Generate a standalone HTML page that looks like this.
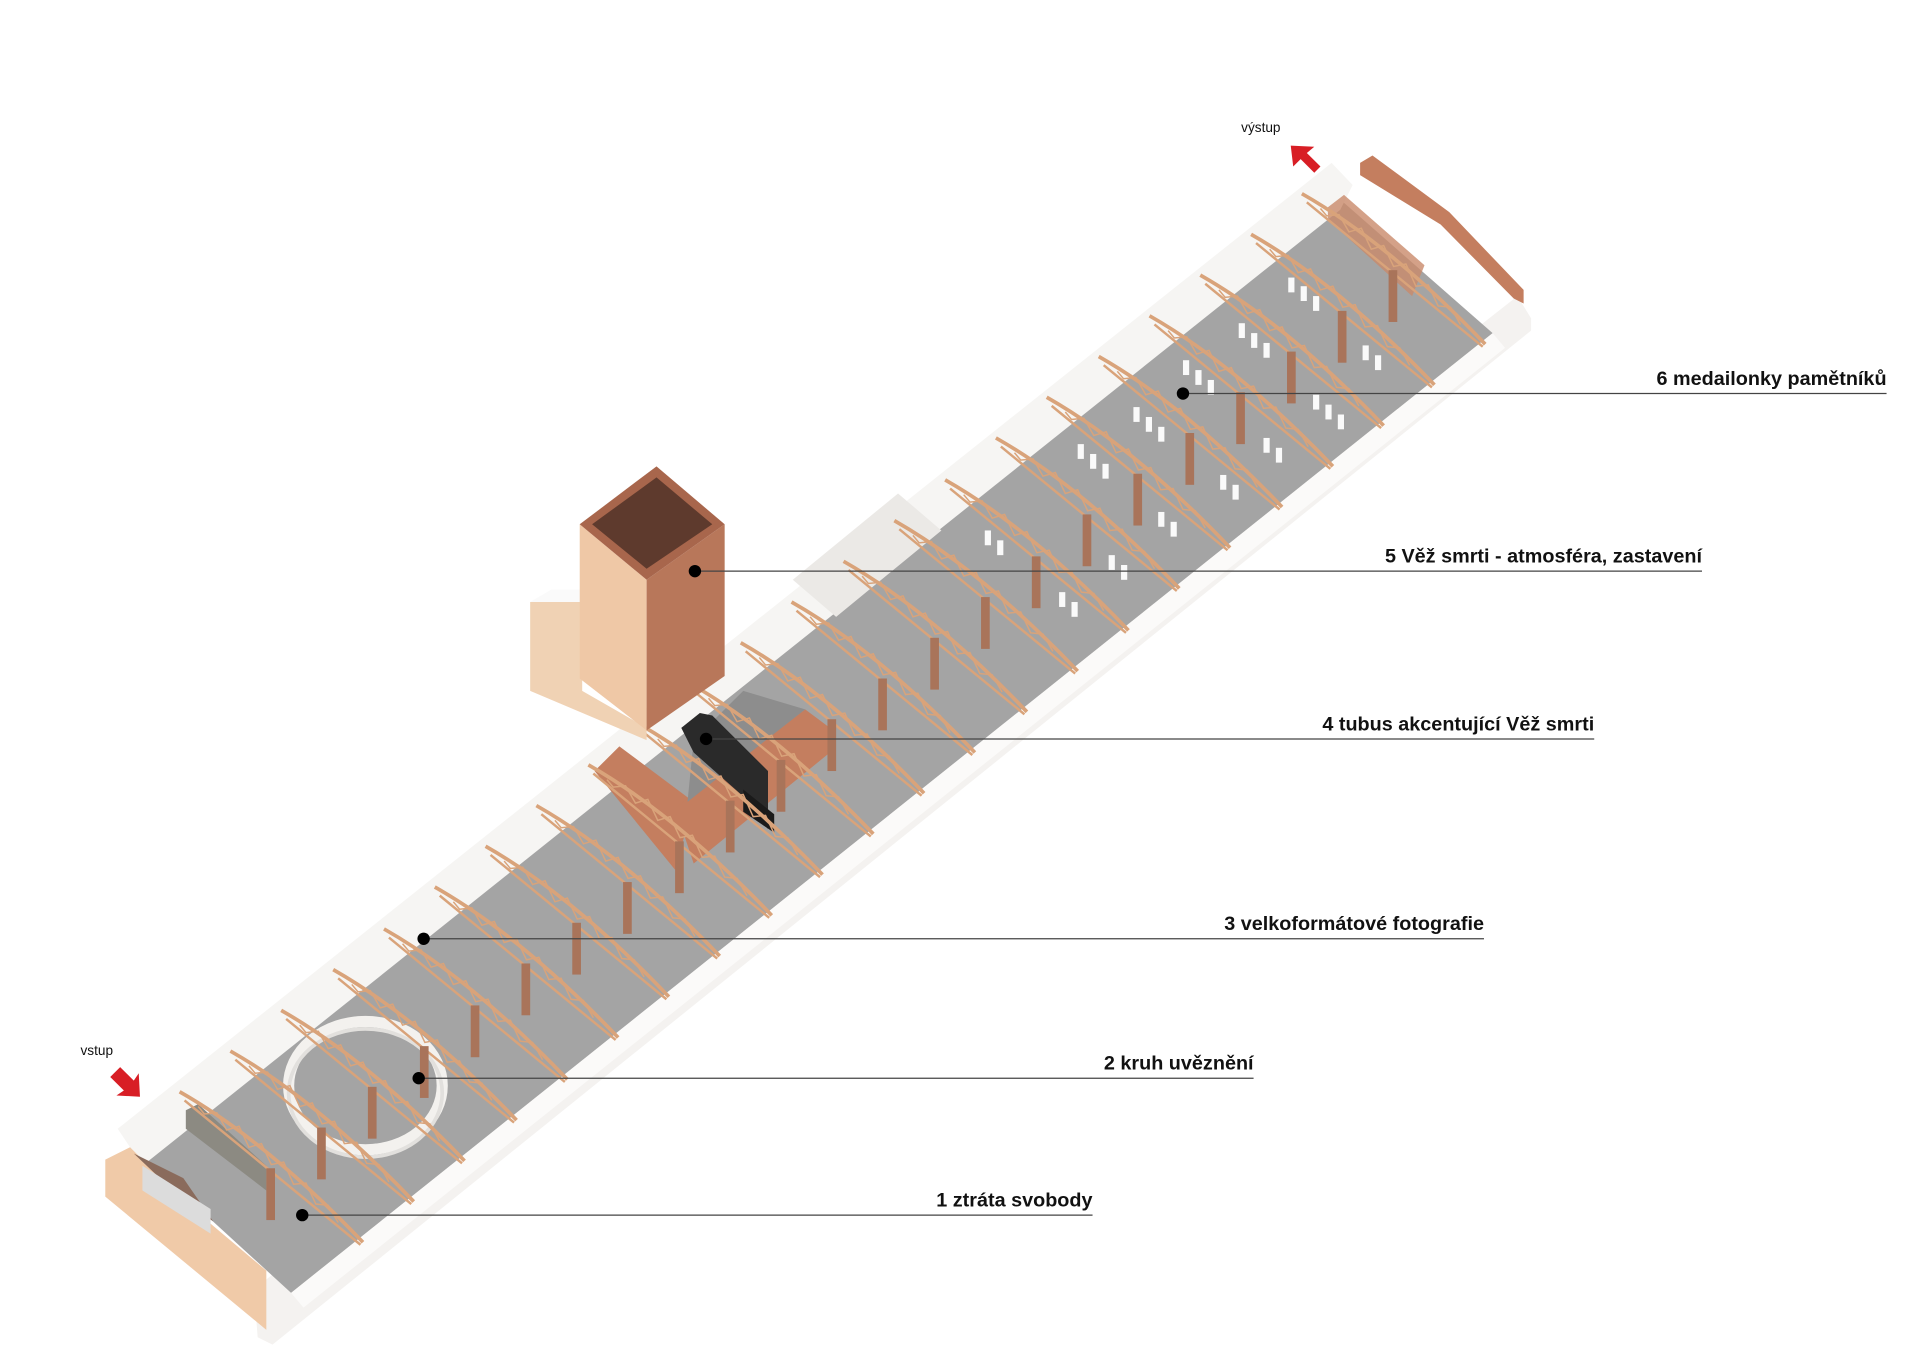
<!DOCTYPE html>
<html><head><meta charset="utf-8"><style>
html,body{margin:0;padding:0;background:#fff;}
svg{display:block}
text{font-family:"Liberation Sans",sans-serif;}
</style></head><body>
<svg width="1920" height="1357" viewBox="0 0 1550 1100" preserveAspectRatio="none" xmlns="http://www.w3.org/2000/svg">
<defs>
<g id="truss">
<path d="M0,0 Q70,40 148,122" fill="none" stroke="#d9a37a" stroke-width="3"/>
<path d="M4,7 L146,124" fill="none" stroke="#d9a37a" stroke-width="2"/>
<path d="M15,12 L20,18 L30,17 L38,31 L48,28 L56,45 L66,42 L74,59 L84,57 L92,75 L102,74 L110,91 L120,92 L128,106" fill="none" stroke="#d9a37a" stroke-width="1.2"/>
<rect x="70" y="62" width="7" height="42" fill="#a9745a"/>
</g>
</defs>
<!-- ground slab -->
<polygon points="205,1045 1225,240 1236,258 1236,268 220,1090 208,1084" fill="#f4f2f0"/>
<!-- floor -->
<polygon points="112,935 1080,160 1205,270 235,1048" fill="#a4a4a4"/>
<!-- left wall -->
<polygon points="95,915 1075,132 1092,150 1082,170 115,945" fill="#f6f5f3"/>
<!-- right ledge -->
<polygon points="235,1048 1205,270 1215,282 245,1060" fill="#fbfaf9"/>
<!-- near brick end -->
<polygon points="85,940 105,930 150,975 215,1030 215,1078 85,970" fill="#f0caa8"/>
<polygon points="108,935 148,955 172,990 150,975" fill="#8a6b5c"/>
<polygon points="115,945 170,980 170,1000 115,965" fill="#dcdcdc"/>
<!-- far brick end -->
<polygon points="1098,132 1108,126 1170,172 1230,235 1230,246 1222,242 1163,182 1098,142" fill="#c47e5f"/>
<polygon points="1072,168 1085,158 1150,215 1140,240 1072,178" fill="#c98a6a" opacity="0.8"/>
<!-- brick walls mid -->
<polygon points="480,625 500,605 560,650 545,705" fill="#c47e5f"/>
<polygon points="545,655 650,575 670,590 670,610 560,700" fill="#c47e5f"/>
<polygon points="560,600 600,560 650,575 555,650" fill="#8d8d8d"/>
<polygon points="640,470 725,400 760,430 675,500" fill="#ebe9e6"/>
<!-- black tubus -->
<polygon points="550,590 565,578 575,580 620,625 620,672 605,650 560,610" fill="#2a2a2a"/>
<polygon points="600,640 625,660 625,675 600,658" fill="#1a1a1a"/>
<!-- circle wall -->
<ellipse cx="295" cy="880" rx="62" ry="52" fill="none" stroke="#f3f1ee" stroke-width="9"/>
<ellipse cx="295" cy="886" rx="62" ry="52" fill="none" stroke="#e2e0dd" stroke-width="3"/>
<!-- grey wall left -->
<polygon points="150,900 160,895 215,945 215,965 150,915" fill="#8c8a82"/>
<!-- medallion panels -->
<g fill="#fafafa">
<rect x="1040" y="225" width="5" height="12"/><rect x="1050" y="232" width="5" height="12"/><rect x="1060" y="240" width="5" height="12"/>
<rect x="1000" y="262" width="5" height="12"/><rect x="1010" y="270" width="5" height="12"/><rect x="1020" y="278" width="5" height="12"/>
<rect x="1100" y="280" width="5" height="12"/><rect x="1110" y="288" width="5" height="12"/>
<rect x="955" y="292" width="5" height="12"/><rect x="965" y="300" width="5" height="12"/><rect x="975" y="308" width="5" height="12"/>
<rect x="1060" y="320" width="5" height="12"/><rect x="1070" y="328" width="5" height="12"/><rect x="1080" y="336" width="5" height="12"/>
<rect x="915" y="330" width="5" height="12"/><rect x="925" y="338" width="5" height="12"/><rect x="935" y="346" width="5" height="12"/>
<rect x="1020" y="355" width="5" height="12"/><rect x="1030" y="363" width="5" height="12"/>
<rect x="870" y="360" width="5" height="12"/><rect x="880" y="368" width="5" height="12"/><rect x="890" y="376" width="5" height="12"/>
<rect x="985" y="385" width="5" height="12"/><rect x="995" y="393" width="5" height="12"/>
<rect x="935" y="415" width="5" height="12"/><rect x="945" y="423" width="5" height="12"/>
<rect x="895" y="450" width="5" height="12"/><rect x="905" y="458" width="5" height="12"/>
<rect x="855" y="480" width="5" height="12"/><rect x="865" y="488" width="5" height="12"/>
<rect x="795" y="430" width="5" height="12"/><rect x="805" y="438" width="5" height="12"/>
</g>
<!-- trusses -->
<use href="#truss" transform="translate(145,885)"/>
<use href="#truss" transform="translate(186,852)"/>
<use href="#truss" transform="translate(227,819)"/>
<use href="#truss" transform="translate(269,786)"/>
<use href="#truss" transform="translate(310,753)"/>
<use href="#truss" transform="translate(351,719)"/>
<use href="#truss" transform="translate(392,686)"/>
<use href="#truss" transform="translate(433,653)"/>
<use href="#truss" transform="translate(475,620)"/>
<use href="#truss" transform="translate(516,587)"/>
<use href="#truss" transform="translate(557,554)"/>
<use href="#truss" transform="translate(598,521)"/>
<use href="#truss" transform="translate(639,488)"/>
<use href="#truss" transform="translate(681,455)"/>
<use href="#truss" transform="translate(722,422)"/>
<use href="#truss" transform="translate(763,389)"/>
<use href="#truss" transform="translate(804,355)"/>
<use href="#truss" transform="translate(845,322)"/>
<use href="#truss" transform="translate(887,289)"/>
<use href="#truss" transform="translate(928,256)"/>
<use href="#truss" transform="translate(969,223)"/>
<use href="#truss" transform="translate(1010,190)"/>
<use href="#truss" transform="translate(1051,157)"/>
<!-- tower -->
<polygon points="428,488 470,488 470,560 522,590 522,600 428,560" fill="#f0d2b4"/>
<polygon points="428,488 445,478 470,478 470,488" fill="#fafafa"/>
<polygon points="468,425 522,470 522,592 468,550" fill="#efc8a6"/>
<polygon points="522,470 585,425 585,548 522,592" fill="#b8775a"/>
<polygon points="468,425 530,378 585,425 522,470" fill="#a8664c"/>
<polygon points="478,425 530,387 575,425 522,461" fill="#5e3a2d"/>
<!-- leaders -->
<g stroke="#444" stroke-width="1">
<line x1="244" y1="985" x2="882" y2="985"/>
<line x1="338" y1="874" x2="1012" y2="874"/>
<line x1="342" y1="761" x2="1198" y2="761"/>
<line x1="570" y1="599" x2="1287" y2="599"/>
<line x1="561" y1="463" x2="1374" y2="463"/>
<line x1="955" y1="319" x2="1523" y2="319"/>
</g>
<g fill="#000">
<circle cx="244" cy="985" r="5"/><circle cx="338" cy="874" r="5"/><circle cx="342" cy="761" r="5"/>
<circle cx="570" cy="599" r="5"/><circle cx="561" cy="463" r="5"/><circle cx="955" cy="319" r="5"/>
</g>
<g font-size="16" font-weight="bold" text-anchor="end" fill="#111">
<text x="882" y="978">1 ztráta svobody</text>
<text x="1012" y="867">2 kruh uvěznění</text>
<text x="1198" y="754">3 velkoformátové fotografie</text>
<text x="1287" y="592">4 tubus akcentující Věž smrti</text>
<text x="1374" y="456">5 Věž smrti - atmosféra, zastavení</text>
<text x="1523" y="312">6 medailonky pamětníků</text>
</g>
<text x="65" y="855" font-size="11" fill="#111">vstup</text>
<text x="1002" y="107" font-size="11" fill="#111">výstup</text>
<g fill="#d81e25">
<polygon points="92,870 97,865 108,876 112,870 113,889 94,888 100,884 89,873"/>
<polygon points="1042,118 1061,119 1055,124 1066,135 1061,140 1050,129 1044,135"/>
</g>
</svg>
</body></html>
